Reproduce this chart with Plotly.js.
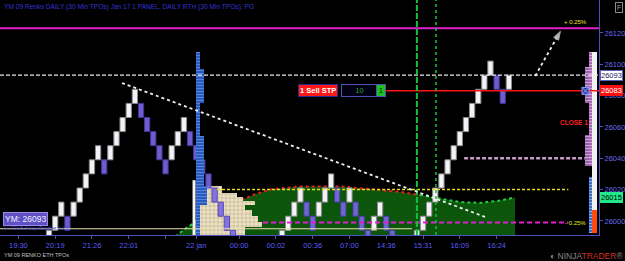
<!DOCTYPE html>
<html><head><meta charset="utf-8">
<script src="https://cdn.plot.ly/plotly-3.0.1.min.js"></script>
<style>html,body{margin:0;padding:0;background:#000;}#c{width:625px;height:261px;}</style>
</head><body><div id="c"></div>
<script>
// ---- Renko bricks (open / close prices, one per brick column) ----
const brickOpen = [25985,25994,26003,26003,26003,26012,26021,26030,26039,26039,
  26039,26048,26057,26066,26075,26075,26066,26057,26048,26039,
  26039,26048,26057,26057,26048,26039,26030,26021,26012,26003,
  25994,25985,25976,25967,25967,25976,25976,25976,25985,25994,
  26003,26012,26012,26003,26003,26012,26021,26021,26012,26012,
  26012,26003,25994,25994,26003,26003,25994,25985,25976,25976,
  25985,25994,26003,26012,26021,26030,26039,26048,26057,26066,
  26075,26084,26093,26093,26084,26084];
const brickClose = [25994,26003,26012,25994,26012,26021,26030,26039,26048,26030,
  26048,26057,26066,26075,26084,26066,26057,26048,26039,26030,
  26048,26057,26066,26048,26039,26030,26021,26012,26003,25994,
  25985,25976,25967,25958,25976,25985,25967,25985,25994,26003,
  26012,26021,26003,25994,26012,26021,26030,26012,26003,26021,
  26003,25994,25985,26003,26012,25994,25985,25976,25967,25985,
  25994,26003,26012,26021,26030,26039,26048,26057,26066,26075,
  26084,26093,26102,26084,26075,26093];

// ---- x axis ticks (brick column, label) ----
const tickPos  = [-5, 1, 7, 13, 19, 24, 31, 37, 43, 49, 55, 61, 67, 73];
const tickText = ['19:30','20:19','21:26','22:01','','22 jan','00:00','00:02','00:36','07:00','14:36','15:31','16:09','16:24'];
const priceTicks = [26000, 26020, 26040, 26060, 26080, 26100, 26120];

// ---- horizontal levels ----
const lastPrice = 26093;
const sellStop = 26083;
const greenMarker = 26015;
const plusLevel = 26123;
const minusLevel = 25999;
const yellowLevel = 26020;
const pinkLevel = 26040;
const creamLevel = 25995;

// ---- session profile area (column, price) ----
const areaX = [20.6,22.2,23.8,25.4,27.1,28.7,31.2,33.6,36.1,38.5,40.9,47.5,50.7,54.0,57.3,60.5,63.8,67.0,70.3,73.6,76.0,76.0];
const areaY = [25990,25995,25999,26003,26006,26009,26013,26017,26020,26021,26022,26022,26021,26020,26018.5,26016.5,26014,26012,26011.5,26013,26015,25990];

// ---- ETH TPO profile (blue): price low, high, start col, end col ----
const ethLow   = [25991, 26075, 26022, 26010];
const ethHigh  = [26108, 26097, 26054, 26022];
const ethStart = [24.0, 24.6, 24.6, 24.6];
const ethEnd   = [24.6, 25.2, 25.2, 25.8];

// ---- RTH TPO profile (beige) ----
const rthLow  = [26018,26015,26013,26010,26007,26003,25999,25996,25991];
const rthHigh = [26022,26018,26015,26013,26010,26007,26003,25999,25996];
const rthEnd  = [28.2,30.7,31.6,33.6,32.0,33.1,34.1,34.7,32.0];
const rthStartCol = 24.0;

// ---- right-edge profile: TPO columns (dashed) and session bar (solid) ----
const rpLow   = [26035, 26075, 26035, 25992];
const rpHigh  = [26108, 26098, 26055, 26028];
const rpStart = [88.1, 87.4, 87.4, 88.1];
const rpEnd   = [88.6, 88.1, 88.1, 88.6];
const rpColor = ['#a050b0','#8a48a0','#8a48a0','#2458c0'];
const rpLines = ['#f0b0f0','#e0a0e8','#e0a0e8','#90c0ff'];
const sbLow   = [26007, 25992];
const sbHigh  = [26108, 26007];
const sbColor = ['#f2f2f2', '#ff4a10'];
const sbStart = 88.6, sbEnd = 89.4;

// trend line & arrow
const trendX = [11.9, 71.1], trendY = [26088, 26002.6];
const arrowX = [79.3, 83.4], arrowY = [26092.5, 26121];
const sessionLines = [60.0, 63.1];

const X0 = -8, X1 = 89.7, Y0 = 25991, Y1 = 26141;
const A2 = {xaxis:'x2', yaxis:'y2'};

const traces = [];
// base subplot: session area
traces.push({type:'scatter', x:areaX, y:areaY, mode:'lines', fill:'tozeroy', fillcolor:'#0b560b', line:{width:0}, hoverinfo:'skip'});
traces.push({type:'scatter', x:areaX.slice(0,6), y:areaY.slice(0,6), mode:'lines', line:{color:'#22cc44', width:2, dash:'dot'}, hoverinfo:'skip'});
traces.push({type:'scatter', x:areaX.slice(5,16), y:areaY.slice(5,16), mode:'lines', line:{color:'#e02020', width:2, dash:'dot'}, hoverinfo:'skip'});
traces.push({type:'scatter', x:areaX.slice(15,21), y:areaY.slice(15,21), mode:'lines', line:{color:'#22cc44', width:2, dash:'dot'}, hoverinfo:'skip'});

// overlay subplot: profiles + bricks
traces.push(Object.assign({type:'bar', orientation:'h',
  y: rthLow.map((l,i)=>(l+rthHigh[i])/2), width: rthLow.map((l,i)=>rthHigh[i]-l),
  x: rthEnd.map(e=>e-rthStartCol), base: rthEnd.map(()=>rthStartCol),
  marker:{color:'#ece2c6', line:{width:0}, pattern:{shape:'+', fgcolor:'#9a7e52', fillmode:'overlay', size:4, solidity:0.3}}, hoverinfo:'skip'}, A2));

const upX=[],upB=[],dnX=[],dnB=[];
brickOpen.forEach((o,i)=>{const c=brickClose[i]; if(c>o){upX.push(i);upB.push(o);} else {dnX.push(i);dnB.push(c);}});
traces.push(Object.assign({type:'bar', x:upX, base:upB, y:upX.map((_,k)=>brickClose[upX[k]]-brickOpen[upX[k]]), width:0.86,
  marker:{color:'#f2f2f8', line:{color:'#8a8a8a', width:1}}, hoverinfo:'skip'}, A2));
traces.push(Object.assign({type:'bar', x:dnX, base:dnB, y:dnX.map((_,k)=>brickOpen[dnX[k]]-brickClose[dnX[k]]), width:0.86,
  marker:{color:'#7a68e6', line:{color:'#4a3ca8', width:1}}, opacity:0.9, hoverinfo:'skip'}, A2));

traces.push(Object.assign({type:'bar', orientation:'h',
  y: ethLow.map((l,i)=>(l+ethHigh[i])/2), width: ethLow.map((l,i)=>ethHigh[i]-l),
  x: ethEnd.map((e,i)=>e-ethStart[i]), base: ethStart,
  marker:{color:'#2050b8', line:{width:0}, pattern:{shape:'-', fgcolor:'#8cbcff', fillmode:'overlay', size:3, solidity:0.45}}, hoverinfo:'skip'}, A2));

traces.push(Object.assign({type:'bar', orientation:'h',
  y: rpLow.map((l,i)=>(l+rpHigh[i])/2), width: rpLow.map((l,i)=>rpHigh[i]-l),
  x: rpEnd.map((e,i)=>e-rpStart[i]), base: rpStart,
  marker:{color:rpColor, line:{width:0}, pattern:{shape:'-', fgcolor:rpLines, fillmode:'overlay', size:3, solidity:0.5}}, hoverinfo:'skip'}, A2));
traces.push(Object.assign({type:'bar', orientation:'h',
  y: sbLow.map((l,i)=>(l+sbHigh[i])/2), width: sbLow.map((l,i)=>sbHigh[i]-l),
  x: sbLow.map(()=>sbEnd-sbStart), base: sbLow.map(()=>sbStart),
  marker:{color:sbColor, line:{width:0}}, hoverinfo:'skip'}, A2));

// white strip left of RTH profile
traces.push(Object.assign({type:'scatter', x:[23.65,23.65], y:[25991,26026], mode:'lines', line:{color:'#f4f4f4', width:3}, hoverinfo:'skip'}, A2));
// levels
traces.push(Object.assign({type:'scatter', x:[X0, 59.2], y:[creamLevel, creamLevel], mode:'lines', line:{color:'#e8e0b0', width:1.2}, hoverinfo:'skip'}, A2));
traces.push(Object.assign({type:'scatter', x:[27.4, 84.7], y:[yellowLevel, yellowLevel], mode:'lines', line:{color:'#e8e020', width:1.5, dash:'3px,2px'}, hoverinfo:'skip'}, A2));
traces.push(Object.assign({type:'scatter', x:[34.9, 84.7], y:[minusLevel, minusLevel], mode:'lines', line:{color:'#e020d0', width:2, dash:'5px,3px'}, hoverinfo:'skip'}, A2));
traces.push(Object.assign({type:'scatter', x:[67.7, 87.4], y:[pinkLevel, pinkLevel], mode:'lines', line:{color:'#c898c8', width:2.5, dash:'4px,2px'}, hoverinfo:'skip'}, A2));
traces.push(Object.assign({type:'scatter', x:[X0, X1], y:[plusLevel, plusLevel], mode:'lines', line:{color:'#e020c8', width:2}, hoverinfo:'skip'}, A2));
traces.push(Object.assign({type:'scatter', x:[X0, X1], y:[lastPrice, lastPrice], mode:'lines', line:{color:'#e8e8e8', width:1.2, dash:'4px,2px'}, hoverinfo:'skip'}, A2));
traces.push(Object.assign({type:'scatter', x:[55, X1], y:[sellStop, sellStop], mode:'lines', line:{color:'#ff1414', width:1.5}, hoverinfo:'skip'}, A2));
// session vertical lines
traces.push(Object.assign({type:'scatter', x:[sessionLines[0],sessionLines[0]], y:[Y0,Y1], mode:'lines', line:{color:'#14c040', width:2, dash:'6px,2px'}, hoverinfo:'skip'}, A2));
traces.push(Object.assign({type:'scatter', x:[sessionLines[1],sessionLines[1]], y:[Y0,Y1], mode:'lines', line:{color:'#14c040', width:1.5, dash:'dot'}, hoverinfo:'skip'}, A2));
// trend line & arrow
traces.push(Object.assign({type:'scatter', x:trendX, y:trendY, mode:'lines', line:{color:'#f0f0f0', width:1.8, dash:'dot'}, hoverinfo:'skip'}, A2));
traces.push(Object.assign({type:'scatter', x:arrowX, y:arrowY, mode:'lines+markers', line:{color:'#f0f0f0', width:1.8, dash:'dot'},
  marker:{symbol:'arrow', size:[0,9], angleref:'previous', color:'#ffffff'}, hoverinfo:'skip'}, A2));
// order marker
traces.push(Object.assign({type:'scatter', x:[87.5], y:[sellStop], mode:'markers', marker:{symbol:'square-x', size:7, color:'#2a3a9a', line:{color:'#90a0ff', width:1}}, hoverinfo:'skip'}, A2));

const ann = [];
const F = 'Liberation Sans, Arial, sans-serif';
ann.push({xref:'paper', yref:'paper', x:0.004, y:1, xanchor:'left', yanchor:'top', yshift:-1, showarrow:false,
  text:'YM 09 Renko DAILY (30 Min TPOs) Jan 17 1 PANEL, DAILY RTH (30 Min TPOs), PG', font:{family:F, size:6.6, color:'#3434d8'}});
// price boxes
ann.push({xref:'paper', yref:'y', x:1, xanchor:'left', xshift:1, y:lastPrice, showarrow:false, text:'26093',
  bgcolor:'#ffffff', bordercolor:'#6060c0', borderwidth:1, borderpad:0, font:{family:F, size:7.5, color:'#202060'}});
ann.push({xref:'paper', yref:'y', x:1, xanchor:'left', xshift:1, y:sellStop, showarrow:false, text:'26083',
  bgcolor:'#ff1010', bordercolor:'#ff1010', borderwidth:1, borderpad:0, font:{family:F, size:7.5, color:'#ffffff'}});
ann.push({xref:'paper', yref:'y', x:1, xanchor:'left', xshift:1, y:greenMarker, showarrow:false, text:'26015',
  bgcolor:'#22e88a', bordercolor:'#22e88a', borderwidth:1, borderpad:0, font:{family:F, size:7.5, color:'#000000'}});
// F box
ann.push({xref:'paper', yref:'paper', x:1, xanchor:'left', xshift:16, y:1, yanchor:'top', yshift:-2, showarrow:false, text:'F',
  bgcolor:'#000', bordercolor:'#888', borderwidth:1, borderpad:1, font:{family:F, size:7, color:'#999'}});
// order labels
ann.push({x:43.9, y:sellStop, showarrow:false, text:'<b>1 Sell STP</b>', bgcolor:'#ff1818', bordercolor:'#2a2a90', borderwidth:1, borderpad:1,
  font:{family:F, size:7.5, color:'#ffffff'}});
ann.push({x:50.6, y:sellStop, showarrow:false, text:'10', width:33, height:9, bgcolor:'#000014', bordercolor:'#5050b0', borderwidth:1, borderpad:1,
  font:{family:F, size:7, color:'#30a030'}});
ann.push({x:54.2, y:sellStop, showarrow:false, text:'1', width:6, height:9, bgcolor:'#20c020', bordercolor:'#5050b0', borderwidth:1, borderpad:1,
  font:{family:F, size:7, color:'#002000'}});
ann.push({x:85.6, y:26062.5, showarrow:false, text:'<b>CLOSE 1</b>', font:{family:F, size:6.5, color:'#ff2020'}});
ann.push({x:85.8, y:26127, showarrow:false, text:'+ 0.25%', font:{family:F, size:6, color:'#e8e820'}});
ann.push({x:85.8, y:25998.7, showarrow:false, text:'- 0.25%', font:{family:F, size:6, color:'#e8e820'}});
// bottom-left overlay
ann.push({xref:'paper', yref:'paper', x:0.005, y:0.066, xanchor:'left', yanchor:'middle', showarrow:false, text:'YM: 26093',
  bgcolor:'#6050c4', bordercolor:'#9a8ae8', borderwidth:1, borderpad:1, font:{family:F, size:8.5, color:'#ececff'}});
ann.push({xref:'paper', yref:'paper', x:0.003, y:0.028, xanchor:'left', yanchor:'middle', showarrow:false, text:'© 2018 NinjaTrader, LLC',
  font:{family:F, size:6, color:'#3c3cc8'}});
ann.push({xref:'paper', yref:'paper', x:0.003, y:-0.085, xanchor:'left', yanchor:'middle', showarrow:false, text:'YM 09 RENKO ETH TPOs',
  font:{family:F, size:5.5, color:'#c0c0c0'}});
ann.push({xref:'paper', yref:'paper', x:1, xshift:26, y:-0.09, xanchor:'right', yanchor:'middle', showarrow:false,
  text:'<span style="color:#888">◐ NINJA</span><span style="color:#d03020">TRADER</span><span style="color:#888">®</span>',
  font:{family:F, size:8.5, color:'#888'}});

const axBase = {showgrid:false, zeroline:false, fixedrange:true};
const layout = {
  width:625, height:261, margin:{l:0, r:26, t:0, b:26},
  paper_bgcolor:'#000', plot_bgcolor:'#000', showlegend:false, barmode:'overlay', bargap:0,
  xaxis:Object.assign({range:[X0,X1], tickvals:tickPos, ticktext:tickText, ticks:'outside', ticklen:3, tickcolor:'#5050c0',
    showline:true, linecolor:'#5050c0', linewidth:1, tickfont:{family:F, size:7.5, color:'#5c5cf0'}}, axBase),
  yaxis:Object.assign({range:[Y0,Y1], side:'right', tickvals:priceTicks, tickformat:'d', ticks:'outside', ticklen:3, tickcolor:'#5050c0',
    showline:true, linecolor:'#5050c0', linewidth:1, tickfont:{family:F, size:7.5, color:'#6a6ae8'}}, axBase),
  xaxis2:Object.assign({range:[X0,X1], overlaying:'x', visible:false}, axBase),
  yaxis2:Object.assign({range:[Y0,Y1], overlaying:'y', visible:false}, axBase),
  annotations: ann
};
Plotly.newPlot('c', traces, layout, {staticPlot:true, displayModeBar:false});
</script></body></html>
